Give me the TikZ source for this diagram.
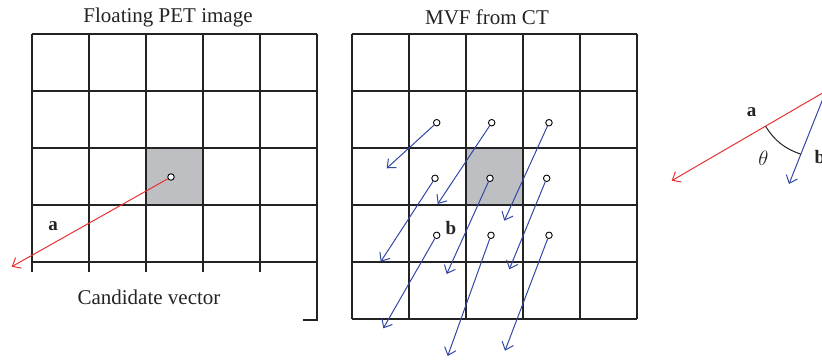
\documentclass[tikz,border=0pt]{standalone}
\usepackage{fontspec}
\setmainfont{Liberation Serif}
\usetikzlibrary{arrows.meta,calc}
\definecolor{vred}{RGB}{232,50,50}
\definecolor{vblue}{RGB}{50,72,165}
\definecolor{cellgray}{RGB}{190,191,195}
\definecolor{gridc}{RGB}{35,35,35}
\begin{document}
\begin{tikzpicture}[x=1pt,y=-1pt,
  gridline/.style={line width=1.7pt, draw=gridc},
  dotpt/.style={circle, draw=black, fill=white, line width=0.9pt, inner sep=0pt, minimum size=6.5pt},
  redvec/.style={draw=vred, line width=1pt, -{Straight Barb[length=7pt,width=12pt]}},
  bluevec/.style={draw=vblue, line width=1pt, -{Straight Barb[length=7pt,width=12pt]}},
  ttl/.style={font=\fontsize{21}{25}\selectfont, text=gridc},
  lab/.style={font=\fontsize{19}{23}\selectfont\bfseries, text=gridc}]
\useasboundingbox (0,0) rectangle (822,359);
% ---------- left grid ----------
\fill[cellgray] (146,148.3) rectangle (203,205.3);
\foreach \y in {34.3,91.3,148.3,205.3,262.3} \draw[gridline] (32,\y) -- (317,\y);
\foreach \x in {32,89,146,203,260} \draw[gridline] (\x,34.3) -- (\x,271.5);
\draw[gridline] (303,320) -- (317,320) -- (317,34.3);
\node[ttl] (t1) at (168,17) {Floating PET image};
\node[ttl] (t2) at (149,297) {Candidate vector};
\node[dotpt] (c0) at (171,177) {};
\coordinate (ea) at (11.7,266.7);
\draw[redvec] (c0) -- (ea);
\node[lab] (la) at (53,226) {a};
% ---------- right grid ----------
\fill[cellgray] (465.7,148.3) rectangle (522.7,205.3);
\foreach \y in {34.3,91.3,148.3,205.3,262.3,319.3} \draw[gridline] (351.7,\y) -- (636.7,\y);
\foreach \x in {351.7,408.7,465.7,522.7,579.7,636.7} \draw[gridline] (\x,34.3) -- (\x,319.3);
\node[ttl] (t3) at (487,17) {MVF from CT};
\node[dotpt] (p11) at (436.7,122.7) {};
\node[dotpt] (p12) at (491.7,122.7) {};
\node[dotpt] (p13) at (549,122.7) {};
\node[dotpt] (p21) at (435,178.3) {};
\node[dotpt] (p22) at (490,178.3) {};
\node[dotpt] (p23) at (546.7,178.3) {};
\node[dotpt] (p31) at (436.7,235.3) {};
\node[dotpt] (p32) at (491,235.3) {};
\node[dotpt] (p33) at (549,235.3) {};
\coordinate (e11) at (386.7,168.3);
\coordinate (e12) at (437.7,204);
\coordinate (e13) at (504.3,220.7);
\coordinate (e21) at (380.7,261.7);
\coordinate (e22) at (446.7,274);
\coordinate (e23) at (509.3,269.3);
\coordinate (e31) at (383.3,328.3);
\coordinate (e32) at (447.7,356);
\coordinate (e33) at (505,350.7);
\foreach \n in {11,12,13,21,22,23,31,32,33} \draw[bluevec] (p\n) -- (e\n);
\node[lab] (lb) at (451,228) {b};
% ---------- angle sketch ----------
\coordinate (apex) at (826,91);
\coordinate (ra) at (671.7,180.7);
\coordinate (rb) at (789,184);
\draw[redvec] (apex) -- (ra);
\draw[bluevec] (apex) -- (rb);
\coordinate (arcA) at ($(apex)!70pt!(ra)$);
\coordinate (arcB) at ($(apex)!68pt!(rb)$);
\draw[line width=1pt, draw=gridc] (arcA) to[bend right=19] (arcB);
\node[lab] (la2) at (751.7,112) {a};
\node[font=\fontsize{20}{24}\selectfont, text=gridc] (th) at (763.3,158) {$\theta$};
\node[lab] (lb2) at (820,157) {b};
\end{tikzpicture}
\end{document}
